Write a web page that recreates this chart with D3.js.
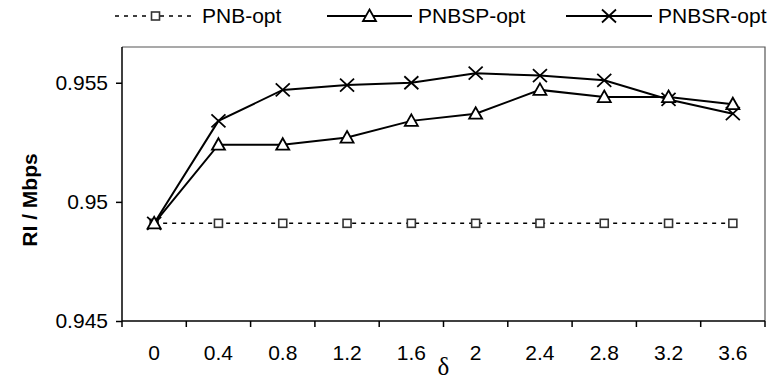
<!DOCTYPE html>
<html>
<head>
<meta charset="utf-8">
<script src="https://cdn.jsdelivr.net/npm/d3@7"></script>
<style>
  body { margin: 0; background: #fff; }
  svg { display: block; }
  text { font-family: "Liberation Sans", Arial, sans-serif; fill: #000; }
</style>
</head>
<body>
<svg id="chart" width="767" height="380"></svg>
<script>
// δ categories along the x axis
const deltas = ["0", "0.4", "0.8", "1.2", "1.6", "2", "2.4", "2.8", "3.2", "3.6"];
// RI (Mbps) for each scheme
const pnbOpt   = [0.9491, 0.9491, 0.9491, 0.9491, 0.9491, 0.9491, 0.9491, 0.9491, 0.9491, 0.9491];
const pnbspOpt = [0.9491, 0.9524, 0.9524, 0.9527, 0.9534, 0.9537, 0.9547, 0.9544, 0.9544, 0.9541];
const pnbsrOpt = [0.9491, 0.9534, 0.9547, 0.9549, 0.9550, 0.9554, 0.9553, 0.9551, 0.9543, 0.9537];
const yTicks = [0.945, 0.95, 0.955];
const seriesNames = ["PNB-opt", "PNBSP-opt", "PNBSR-opt"];

const svg = d3.select("#chart");
const plotLeft = 122, plotRight = 765, plotTop = 47, plotBottom = 321;

const x = d3.scaleBand().domain(deltas).range([plotLeft, plotRight]).padding(0);
const y = d3.scaleLinear().domain([0.945, 0.9565]).range([plotBottom, plotTop]);
const cx = d => x(d) + x.bandwidth() / 2;

// frame (top and right)
svg.append("path")
  .attr("d", `M${plotLeft},${plotTop}H${plotRight}V${plotBottom}`)
  .attr("fill", "none").attr("stroke", "#555").attr("stroke-width", 1.2);

// y axis
const yAxis = svg.append("g").attr("transform", `translate(${plotLeft},0)`)
  .call(d3.axisLeft(y).tickValues(yTicks).tickSize(6).tickPadding(8)
    .tickFormat(d => String(+d.toFixed(3))));
yAxis.select(".domain").attr("stroke", "#000").attr("stroke-width", 1.5)
  .attr("d", `M0,${plotTop}V${plotBottom}`);
yAxis.selectAll(".tick line").attr("stroke", "#000").attr("stroke-width", 1.5);
yAxis.selectAll(".tick text").style("font-size", "21px")
  .style("font-family", "'Liberation Sans', Arial, sans-serif").attr("fill", "#000");

// x axis: labels centred in each category, ticks on the category boundaries
const xAxis = svg.append("g").attr("transform", `translate(0,${plotBottom})`)
  .call(d3.axisBottom(x).tickSize(0).tickPadding(24));
xAxis.select(".domain").attr("stroke", "#000").attr("stroke-width", 1.5)
  .attr("d", `M${plotLeft},0H${plotRight}`);
xAxis.selectAll(".tick text").style("font-size", "21px")
  .style("font-family", "'Liberation Sans', Arial, sans-serif").attr("fill", "#000");
xAxis.selectAll("line.boundary")
  .data(deltas.map(d => x(d)).concat([plotRight]))
  .enter().append("line").attr("class", "boundary")
  .attr("x1", d => d).attr("x2", d => d).attr("y1", 0).attr("y2", 6)
  .attr("stroke", "#000").attr("stroke-width", 1.5);

// axis titles
svg.append("text")
  .attr("transform", "translate(37,200) rotate(-90)")
  .attr("text-anchor", "middle")
  .style("font-size", "21px").style("font-weight", "bold")
  .text("RI / Mbps");
svg.append("text")
  .attr("x", (plotLeft + plotRight) / 2).attr("y", 375)
  .attr("text-anchor", "middle")
  .style("font-family", "'Liberation Serif', 'Times New Roman', serif")
  .style("font-size", "25px")
  .text("δ");

// marker shapes
const markers = {
  square:   g => g.append("rect").attr("x", -4).attr("y", -4).attr("width", 8).attr("height", 8)
                 .attr("fill", "#fff").attr("stroke", "#333").attr("stroke-width", 1.6),
  triangle: g => g.append("path").attr("d", "M0,-6.5L6.5,5L-6.5,5Z")
                 .attr("fill", "#fff").attr("stroke", "#000").attr("stroke-width", 1.8),
  cross:    g => g.append("path").attr("d", "M-7,-6.5L7,6.5M-7,6.5L7,-6.5")
                 .attr("fill", "none").attr("stroke", "#000").attr("stroke-width", 1.8)
};

const series = [
  { name: seriesNames[0], values: pnbOpt,   dash: "4,5", width: 1.5, marker: "square" },
  { name: seriesNames[2], values: pnbsrOpt, dash: null,  width: 2,   marker: "cross" },
  { name: seriesNames[1], values: pnbspOpt, dash: null,  width: 2,   marker: "triangle" }
];

const line = d3.line().x((v, i) => cx(deltas[i])).y(v => y(v));

series.forEach(s => {
  svg.append("path")
    .datum(s.values)
    .attr("d", line)
    .attr("fill", "none")
    .attr("stroke", "#000")
    .attr("stroke-width", s.width)
    .attr("stroke-dasharray", s.dash);
  s.values.forEach((v, i) => {
    const g = svg.append("g").attr("transform", `translate(${cx(deltas[i])},${y(v)})`);
    markers[s.marker](g);
  });
});

// legend
const legendItems = [
  { name: seriesNames[0], x0: 115, x1: 196, dash: "4,5", width: 1.5, marker: "square" },
  { name: seriesNames[1], x0: 327, x1: 412, dash: null,  width: 2,   marker: "triangle" },
  { name: seriesNames[2], x0: 566, x1: 652, dash: null,  width: 2,   marker: "cross" }
];
const legendY = 16;
legendItems.forEach(it => {
  svg.append("line")
    .attr("x1", it.x0).attr("x2", it.x1).attr("y1", legendY).attr("y2", legendY)
    .attr("stroke", "#000").attr("stroke-width", it.width)
    .attr("stroke-dasharray", it.dash);
  const g = svg.append("g").attr("transform", `translate(${(it.x0 + it.x1) / 2},${legendY})`);
  markers[it.marker](g);
  svg.append("text")
    .attr("x", it.x1 + 6).attr("y", legendY + 7)
    .style("font-size", "21px")
    .text(it.name);
});
</script>
</body>
</html>
